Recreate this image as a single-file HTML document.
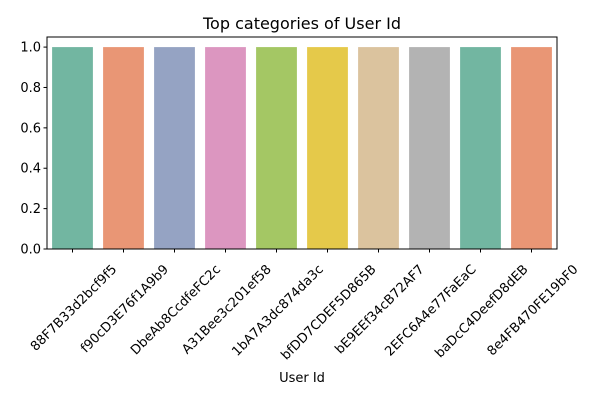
<!DOCTYPE html>
<html><head><meta charset="utf-8"><style>
body{margin:0;background:#fff;}
svg text{font-family:"DejaVu Sans","Liberation Sans",sans-serif;fill:#000;}
</style></head><body>
<svg id="c" width="600" height="400"></svg>
<script>
const categories=["88F7B33d2bcf9f5","f90cD3E76f1A9b9","DbeAb8CcdfeFC2c","A31Bee3c201ef58","1bA7A3dc874da3c","bfDD7CDEF5D865B","bE9EEf34cB72AF7","2EFC6A4e77FaEaC","baDcC4DeefD8dEB","8e4FB470FE19bF0"];
const counts=[1,1,1,1,1,1,1,1,1,1];
const yTicks=[0.0,0.2,0.4,0.6,0.8,1.0];
const colors=["#72b6a1","#e99675","#95a3c3","#dc96c0","#a4c764","#e5c94a","#dbc39e","#b3b3b3","#72b6a1","#e99675"];
const NS="http://www.w3.org/2000/svg";
const svg=document.getElementById('c');
const L=47,R=557,T=37,B=249,yMax=1.05;
const bw=(R-L)/categories.length;
const x=i=>L+bw*(i+0.5);
const y=v=>B-(v/yMax)*(B-T);
function mk(t,a){const e=document.createElementNS(NS,t);for(const k in a)e.setAttribute(k,a[k]);svg.appendChild(e);return e;}
categories.forEach((c,i)=>{
  const r=mk('rect',{x:x(i)-bw*0.4,y:y(counts[i]),width:bw*0.8,height:B-y(counts[i]),fill:colors[i%colors.length]});
  
  
});
const ax=mk('rect',{x:L,y:T,width:R-L,height:B-T,fill:'none',stroke:'#000','stroke-width':1});


yTicks.forEach(v=>{
  mk('line',{x1:L-3.5,x2:L,y1:y(v),y2:y(v),stroke:'#000'});
  const t=mk('text',{x:L-6,y:y(v)+4.5,'text-anchor':'end','font-size':13});
  t.textContent=v.toFixed(1);
  
  
});
categories.forEach((c,i)=>{
  mk('line',{x1:x(i),x2:x(i),y1:B,y2:B+3.5,stroke:'#000'});
  const t=mk('text',{x:0,y:0,'text-anchor':'end','font-size':13});
  t.textContent=c;
  
  
  const len=t.getComputedTextLength();
  const s=Math.SQRT1_2;
  const ex=x(i)+len*s/2+4, ey=B+21;
  t.setAttribute('transform','translate('+ex+','+ey+') rotate(-45)');
});
const ti=mk('text',{x:(L+R)/2,y:29,'text-anchor':'middle','font-size':16});
ti.textContent='Top categories of User Id';


const xl=mk('text',{x:(L+R)/2,y:382,'text-anchor':'middle','font-size':13});
xl.textContent='User Id';


</script>
</body></html>
